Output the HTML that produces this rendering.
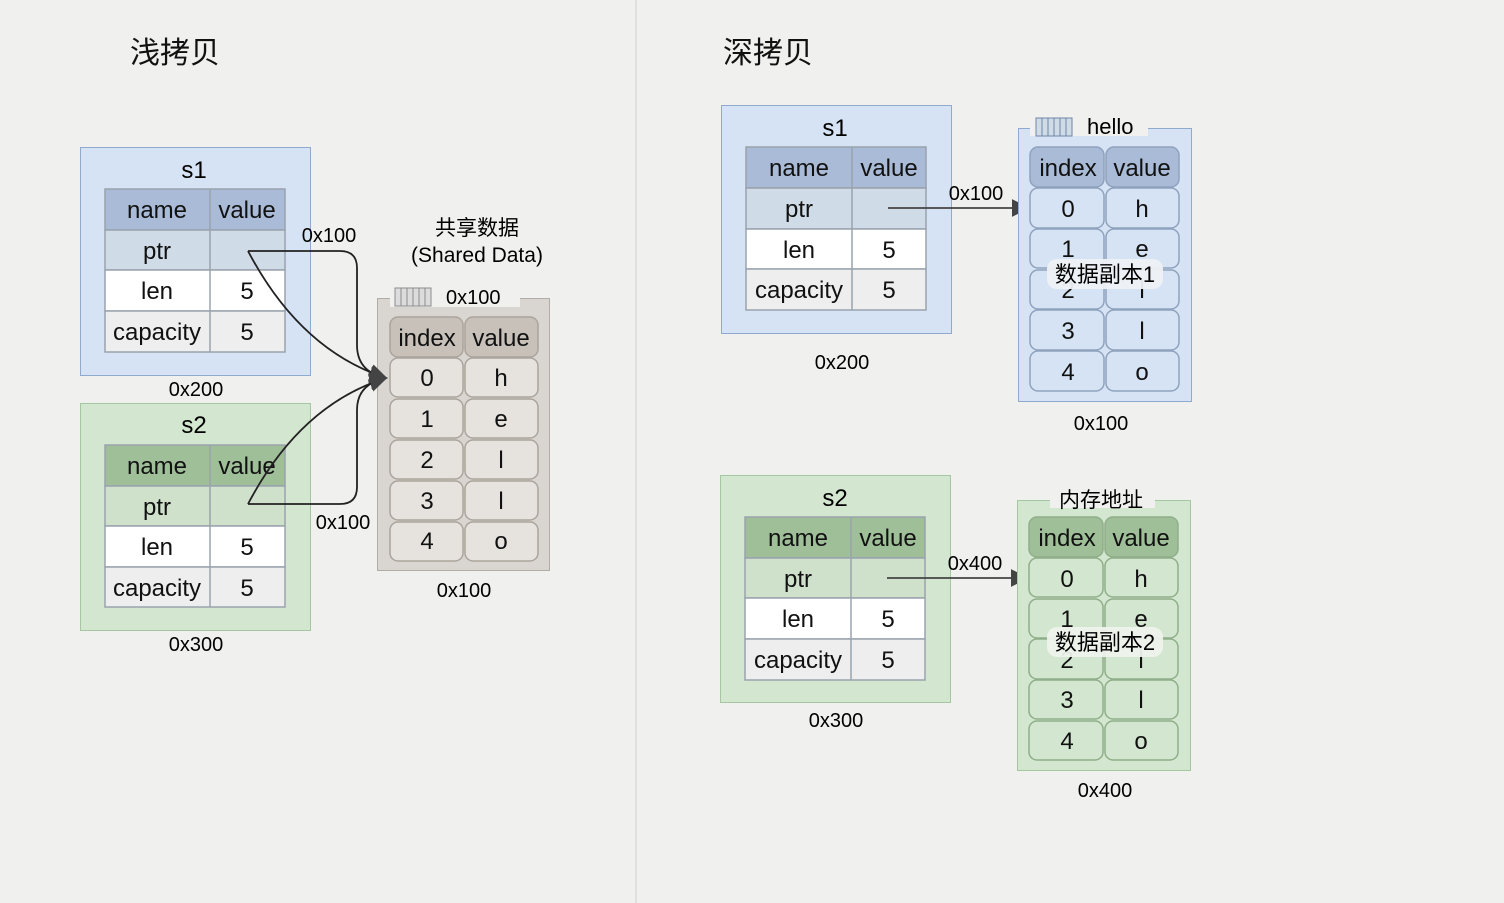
<!DOCTYPE html>
<html><head><meta charset="utf-8"><style>
html,body{margin:0;padding:0;background:#f0f0ef;}
svg{display:block;font-family:"Liberation Sans","Noto Sans CJK SC",sans-serif;}
</style></head><body>
<svg width="1504" height="903" viewBox="0 0 1504 903" xmlns="http://www.w3.org/2000/svg">
<defs>
<marker id="ah" viewBox="0 0 10 10" refX="9" refY="5" markerWidth="9" markerHeight="9" orient="auto" markerUnits="userSpaceOnUse"><path d="M0,0 L10,5 L0,10 z" fill="#444"/></marker>
<marker id="ah2" viewBox="0 0 10 10" refX="9" refY="5" markerWidth="18" markerHeight="18" orient="auto" markerUnits="userSpaceOnUse"><path d="M0,0 L10,5 L0,10 z" fill="#444"/></marker>
</defs>
<rect width="1504" height="903" fill="#f0f0ef"/>
<line x1="636" y1="0" x2="636" y2="903" stroke="#d0d0d0" stroke-width="1"/>
<g font-size="30" fill="#111"><text x="130" y="63">浅拷贝</text><text x="723" y="63">深拷贝</text></g>

<!-- LEFT s1 -->
<rect x="80.5" y="147.5" width="230" height="228" fill="#d6e3f4" stroke="#8fa9cf"/>
<text x="194" y="178" font-size="24" text-anchor="middle">s1</text>
<g stroke="#9aa3ad" stroke-width="1.5">
<rect x="105" y="189" width="180" height="41" fill="#a9bbd6"/>
<rect x="105" y="230" width="180" height="40" fill="#cfdbe6"/>
<rect x="105" y="270" width="180" height="41" fill="#ffffff"/>
<rect x="105" y="311" width="180" height="41" fill="#eeeeee"/>
<line x1="210" y1="189" x2="210" y2="352"/></g>
<g font-size="24" text-anchor="middle" fill="#111">
<text x="157" y="218">name</text><text x="247" y="218">value</text>
<text x="157" y="259">ptr</text>
<text x="157" y="299">len</text><text x="247" y="299">5</text>
<text x="157" y="340">capacity</text><text x="247" y="340">5</text></g>
<text x="196" y="396" font-size="20" text-anchor="middle">0x200</text>

<!-- LEFT s2 -->
<rect x="80.5" y="403.5" width="230" height="227" fill="#d3e6cf" stroke="#a5c79f"/>
<text x="194" y="433" font-size="24" text-anchor="middle">s2</text>
<g stroke="#9aa3ad" stroke-width="1.5">
<rect x="105" y="445" width="180" height="41" fill="#9fbf98"/>
<rect x="105" y="486" width="180" height="40" fill="#cfe0cb"/>
<rect x="105" y="526" width="180" height="41" fill="#ffffff"/>
<rect x="105" y="567" width="180" height="40" fill="#eeeeee"/>
<line x1="210" y1="445" x2="210" y2="607"/></g>
<g font-size="24" text-anchor="middle" fill="#111">
<text x="157" y="474">name</text><text x="247" y="474">value</text>
<text x="157" y="515">ptr</text>
<text x="157" y="555">len</text><text x="247" y="555">5</text>
<text x="157" y="596">capacity</text><text x="247" y="596">5</text></g>
<text x="196" y="651" font-size="20" text-anchor="middle">0x300</text>

<!-- Shared data -->
<text x="477" y="235" font-size="21" text-anchor="middle">共享数据</text>
<text x="477" y="262" font-size="21" text-anchor="middle">(Shared Data)</text>
<rect x="377.5" y="298.5" width="172" height="272" fill="#d9d6d1" stroke="#b1aca5"/>
<rect x="390" y="289" width="130" height="18" fill="#f0f0ef"/>
<g stroke="#8c8c8c" fill="#dcdcdc"><rect x="395" y="288" width="36" height="18"/></g>
<g stroke="#8c8c8c"><line x1="401" y1="288" x2="401" y2="306"/><line x1="407" y1="288" x2="407" y2="306"/><line x1="413" y1="288" x2="413" y2="306"/><line x1="419" y1="288" x2="419" y2="306"/><line x1="425" y1="288" x2="425" y2="306"/></g>
<text x="446" y="304" font-size="20">0x100</text>
<g stroke="#aaa49c" stroke-width="1.5" fill="#e6e3df">
<rect x="390" y="317" width="73" height="40" rx="8" fill="#c7c1ba"/><rect x="465" y="317" width="73" height="40" rx="8" fill="#c7c1ba"/>
<rect x="390" y="358" width="73" height="39" rx="8"/><rect x="465" y="358" width="73" height="39" rx="8"/>
<rect x="390" y="399" width="73" height="39" rx="8"/><rect x="465" y="399" width="73" height="39" rx="8"/>
<rect x="390" y="440" width="73" height="39" rx="8"/><rect x="465" y="440" width="73" height="39" rx="8"/>
<rect x="390" y="481" width="73" height="39" rx="8"/><rect x="465" y="481" width="73" height="39" rx="8"/>
<rect x="390" y="522" width="73" height="39" rx="8"/><rect x="465" y="522" width="73" height="39" rx="8"/></g>
<g font-size="24" text-anchor="middle" fill="#111">
<text x="427" y="346">index</text><text x="501" y="346">value</text>
<text x="427" y="386">0</text><text x="501" y="386">h</text>
<text x="427" y="427">1</text><text x="501" y="427">e</text>
<text x="427" y="468">2</text><text x="501" y="468">l</text>
<text x="427" y="509">3</text><text x="501" y="509">l</text>
<text x="427" y="549">4</text><text x="501" y="549">o</text></g>
<text x="464" y="597" font-size="20" text-anchor="middle">0x100</text>

<!-- left arrows -->
<g fill="none" stroke="#222" stroke-width="1.8">
<path d="M248,251 L340,251 Q357,251 357,268 L357,345 Q357,372 386,378" marker-end="url(#ah2)"/>
<path d="M248,251 Q300,350 386,378" marker-end="url(#ah2)"/>
<path d="M248,504 L340,504 Q357,504 357,487 L357,410 Q357,384 386,378" marker-end="url(#ah2)"/>
<path d="M248,504 Q300,405 386,378" marker-end="url(#ah2)"/></g>
<text x="329" y="242" font-size="20" text-anchor="middle">0x100</text>
<text x="343" y="529" font-size="20" text-anchor="middle">0x100</text>

<!-- RIGHT s1 -->
<rect x="721.5" y="105.5" width="230" height="228" fill="#d6e3f4" stroke="#8fa9cf"/>
<text x="835" y="136" font-size="24" text-anchor="middle">s1</text>
<g stroke="#9aa3ad" stroke-width="1.5">
<rect x="746" y="147" width="180" height="41" fill="#a9bbd6"/>
<rect x="746" y="188" width="180" height="41" fill="#cfdbe6"/>
<rect x="746" y="229" width="180" height="40" fill="#ffffff"/>
<rect x="746" y="269" width="180" height="41" fill="#eeeeee"/>
<line x1="852" y1="147" x2="852" y2="310"/></g>
<g font-size="24" text-anchor="middle" fill="#111">
<text x="799" y="176">name</text><text x="889" y="176">value</text>
<text x="799" y="217">ptr</text>
<text x="799" y="258">len</text><text x="889" y="258">5</text>
<text x="799" y="298">capacity</text><text x="889" y="298">5</text></g>
<text x="842" y="369" font-size="20" text-anchor="middle">0x200</text>
<line x1="888" y1="208" x2="1028" y2="208" stroke="#444" stroke-width="1.8" marker-end="url(#ah2)"/>
<text x="976" y="200" font-size="20" text-anchor="middle">0x100</text>

<!-- hello box -->
<rect x="1018.5" y="128.5" width="173" height="273" fill="#d6e3f4" stroke="#8fa9cf"/>
<rect x="1030" y="118" width="118" height="18" fill="#f0f0ef"/>
<rect x="1036" y="118" width="36" height="18" fill="#cfdbe6" stroke="#6f86a8"/>
<g stroke="#6f86a8"><line x1="1042" y1="118" x2="1042" y2="136"/><line x1="1048" y1="118" x2="1048" y2="136"/><line x1="1054" y1="118" x2="1054" y2="136"/><line x1="1060" y1="118" x2="1060" y2="136"/><line x1="1066" y1="118" x2="1066" y2="136"/></g>
<text x="1087" y="134" font-size="22">hello</text>
<g stroke="#8fa2bd" stroke-width="1.5" fill="#d6e3f4">
<rect x="1030" y="147" width="74" height="40" rx="8" fill="#a9bbd6"/><rect x="1106" y="147" width="73" height="40" rx="8" fill="#a9bbd6"/>
<rect x="1030" y="188" width="74" height="40" rx="8"/><rect x="1106" y="188" width="73" height="40" rx="8"/>
<rect x="1030" y="229" width="74" height="39" rx="8"/><rect x="1106" y="229" width="73" height="39" rx="8"/>
<rect x="1030" y="270" width="74" height="39" rx="8"/><rect x="1106" y="270" width="73" height="39" rx="8"/>
<rect x="1030" y="310" width="74" height="40" rx="8"/><rect x="1106" y="310" width="73" height="40" rx="8"/>
<rect x="1030" y="351" width="74" height="40" rx="8"/><rect x="1106" y="351" width="73" height="40" rx="8"/></g>
<g font-size="24" text-anchor="middle" fill="#111">
<text x="1068" y="176">index</text><text x="1142" y="176">value</text>
<text x="1068" y="217">0</text><text x="1142" y="217">h</text>
<text x="1068" y="257">1</text><text x="1142" y="257">e</text>
<text x="1068" y="298">2</text><text x="1142" y="298">l</text>
<text x="1068" y="339">3</text><text x="1142" y="339">l</text>
<text x="1068" y="380">4</text><text x="1142" y="380">o</text></g>
<rect x="1047" y="259" width="116" height="30" rx="10" fill="#eef1f4" opacity="0.95"/>
<text x="1105" y="282" font-size="22" text-anchor="middle">数据副本1</text>
<text x="1101" y="430" font-size="20" text-anchor="middle">0x100</text>

<!-- RIGHT s2 -->
<rect x="720.5" y="475.5" width="230" height="227" fill="#d3e6cf" stroke="#a5c79f"/>
<text x="835" y="506" font-size="24" text-anchor="middle">s2</text>
<g stroke="#9aa3ad" stroke-width="1.5">
<rect x="745" y="517" width="180" height="41" fill="#9fbf98"/>
<rect x="745" y="558" width="180" height="40" fill="#cfe0cb"/>
<rect x="745" y="598" width="180" height="41" fill="#ffffff"/>
<rect x="745" y="639" width="180" height="41" fill="#eeeeee"/>
<line x1="851" y1="517" x2="851" y2="680"/></g>
<g font-size="24" text-anchor="middle" fill="#111">
<text x="798" y="546">name</text><text x="888" y="546">value</text>
<text x="798" y="587">ptr</text>
<text x="798" y="627">len</text><text x="888" y="627">5</text>
<text x="798" y="668">capacity</text><text x="888" y="668">5</text></g>
<text x="836" y="727" font-size="20" text-anchor="middle">0x300</text>
<line x1="887" y1="578" x2="1027" y2="578" stroke="#444" stroke-width="1.8" marker-end="url(#ah2)"/>
<text x="975" y="570" font-size="20" text-anchor="middle">0x400</text>

<!-- 内存地址 box -->
<rect x="1017.5" y="500.5" width="173" height="270" fill="#d3e6cf" stroke="#a5c79f"/>
<rect x="1050" y="490" width="105" height="18" fill="#f0f0ef"/>
<text x="1101" y="507" font-size="21" text-anchor="middle">内存地址</text>
<g stroke="#8fae89" stroke-width="1.5" fill="#d3e6cf">
<rect x="1029" y="517" width="74" height="40" rx="8" fill="#9fbf98"/><rect x="1105" y="517" width="73" height="40" rx="8" fill="#9fbf98"/>
<rect x="1029" y="558" width="74" height="39" rx="8"/><rect x="1105" y="558" width="73" height="39" rx="8"/>
<rect x="1029" y="599" width="74" height="39" rx="8"/><rect x="1105" y="599" width="73" height="39" rx="8"/>
<rect x="1029" y="639" width="74" height="40" rx="8"/><rect x="1105" y="639" width="73" height="40" rx="8"/>
<rect x="1029" y="680" width="74" height="39" rx="8"/><rect x="1105" y="680" width="73" height="39" rx="8"/>
<rect x="1029" y="721" width="74" height="39" rx="8"/><rect x="1105" y="721" width="73" height="39" rx="8"/></g>
<g font-size="24" text-anchor="middle" fill="#111">
<text x="1067" y="546">index</text><text x="1141" y="546">value</text>
<text x="1067" y="587">0</text><text x="1141" y="587">h</text>
<text x="1067" y="627">1</text><text x="1141" y="627">e</text>
<text x="1067" y="668">2</text><text x="1141" y="668">l</text>
<text x="1067" y="708">3</text><text x="1141" y="708">l</text>
<text x="1067" y="749">4</text><text x="1141" y="749">o</text></g>
<rect x="1047" y="627" width="116" height="30" rx="10" fill="#eef2ec" opacity="0.95"/>
<text x="1105" y="650" font-size="22" text-anchor="middle">数据副本2</text>
<text x="1105" y="797" font-size="20" text-anchor="middle">0x400</text>
</svg>
</body></html>
